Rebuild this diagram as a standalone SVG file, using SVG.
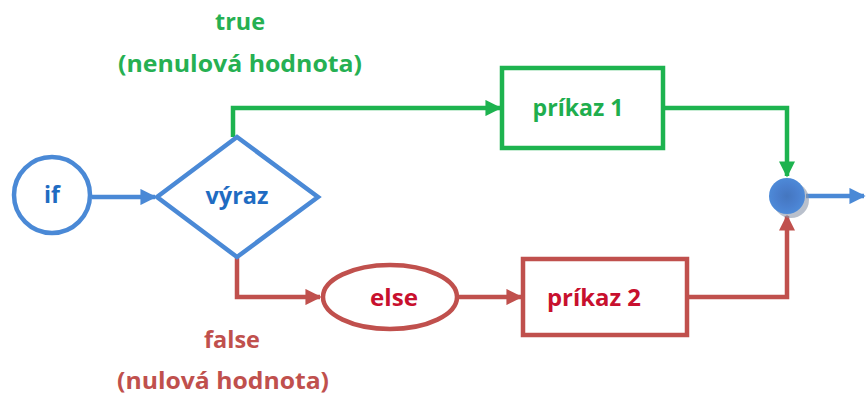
<svg xmlns="http://www.w3.org/2000/svg" width="866" height="398" viewBox="0 0 866 398">
  <style>
    text { font-family: "Open Sans", "Noto Sans", "Liberation Sans", sans-serif; font-weight: 700; text-anchor: middle; dominant-baseline: central; }
    .blue { stroke: #4a89d6; }
    .green { stroke: #1db34f; }
    .red { stroke: #c0504d; }
    .shape { fill: #ffffff; stroke-width: 4.5; }
    .wire { fill: none; stroke-width: 4.5; }
    .tblue { fill: #1f6cc2; font-size: 23px; }
    .tgreen { fill: #1fae4e; font-size: 24px; }
    .tred { fill: #c8102e; font-size: 24px; }
    .lgreen { fill: #26b052; font-size: 24px; }
    .lred { fill: #c0504d; font-size: 24px; }
  </style>
  <defs>
    <marker id="ah-blue" viewBox="0 0 10 10" refX="9" refY="5" markerWidth="3.6" markerHeight="3.6" orient="auto" markerUnits="strokeWidth">
      <path d="M0,0 L10,5 L0,10 z" fill="#4a89d6"/>
    </marker>
    <marker id="ah-green" viewBox="0 0 10 10" refX="9" refY="5" markerWidth="3.6" markerHeight="3.6" orient="auto" markerUnits="strokeWidth">
      <path d="M0,0 L10,5 L0,10 z" fill="#1db34f"/>
    </marker>
    <marker id="ah-red" viewBox="0 0 10 10" refX="9" refY="5" markerWidth="3.6" markerHeight="3.6" orient="auto" markerUnits="strokeWidth">
      <path d="M0,0 L10,5 L0,10 z" fill="#c0504d"/>
    </marker>
    <radialGradient id="joinFill" cx="0.5" cy="0.5" r="0.5">
      <stop offset="0" stop-color="#4476bf"/>
      <stop offset="0.6" stop-color="#4a80cf"/>
      <stop offset="1" stop-color="#4d8ad8"/>
    </radialGradient>
  </defs>

  <!-- connectors -->
  <g id="connectors">
    <path class="wire blue" d="M92,197 L155,197" marker-end="url(#ah-blue)"/>
    <path class="wire green" d="M233,137 L233,108 L500,108" marker-end="url(#ah-green)"/>
    <path class="wire green" d="M663,108 L787,108 L787,176" marker-end="url(#ah-green)"/>
    <path class="wire red" d="M237,258 L237,297 L320,297" marker-end="url(#ah-red)"/>
    <path class="wire red" d="M458,297 L521,297" marker-end="url(#ah-red)"/>
    <path class="wire red" d="M687,297 L787,297 L787,216" marker-end="url(#ah-red)"/>
    <path class="wire blue" d="M806,196 L864,196" marker-end="url(#ah-blue)"/>
  </g>

  <!-- condition labels -->
  <g id="label-true">
    <text class="lgreen" x="240" y="20" textLength="50" lengthAdjust="spacingAndGlyphs">true</text>
    <text class="lgreen" x="240" y="62" textLength="244" lengthAdjust="spacingAndGlyphs">(nenulová hodnota)</text>
  </g>
  <g id="label-false">
    <text class="lred" x="232" y="338" textLength="56" lengthAdjust="spacingAndGlyphs">false</text>
    <text class="lred" x="223" y="379" textLength="212" lengthAdjust="spacingAndGlyphs">(nulová hodnota)</text>
  </g>

  <g id="node-if">
    <circle class="shape blue" cx="52" cy="195" r="38"/>
    <text class="tblue" x="52" y="194">if</text>
  </g>

  <g id="node-vyraz">
    <polygon class="shape blue" points="157,197 237,137 318,197 237,257"/>
    <text class="tblue" x="237" y="195" textLength="63" lengthAdjust="spacingAndGlyphs">výraz</text>
  </g>

  <g id="node-prikaz1">
    <rect class="shape green" x="502" y="68" width="161" height="80"/>
    <text class="tgreen" x="578" y="106" textLength="91" lengthAdjust="spacingAndGlyphs">príkaz 1</text>
  </g>

  <g id="node-else">
    <ellipse class="shape red" cx="390" cy="297" rx="67" ry="32"/>
    <text class="tred" x="394" y="296" textLength="48" lengthAdjust="spacingAndGlyphs">else</text>
  </g>

  <g id="node-prikaz2">
    <rect class="shape red" x="523" y="259" width="164" height="76"/>
    <text class="tred" x="594" y="296" textLength="94" lengthAdjust="spacingAndGlyphs">príkaz 2</text>
  </g>

  <g id="node-join">
    <circle cx="791" cy="200" r="18" fill="#8a96aa" opacity="0.6"/>
    <circle cx="787" cy="196" r="18" fill="url(#joinFill)"/>
  </g>
</svg>
